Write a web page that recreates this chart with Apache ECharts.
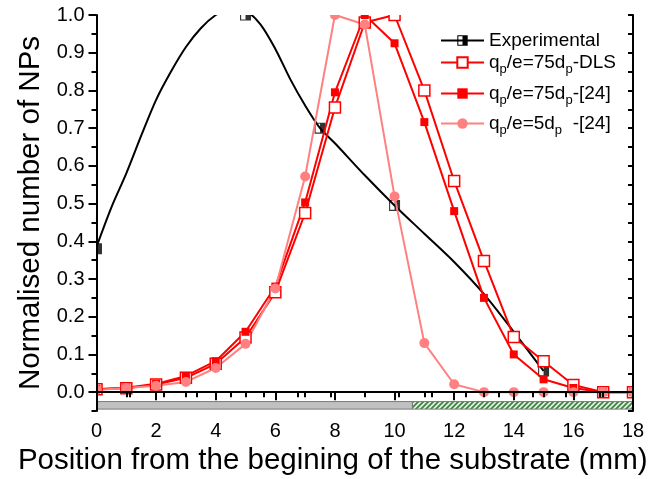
<!DOCTYPE html>
<html lang="en">
<head>
    <meta charset="UTF-8">
    <title>Normalised number of NPs</title>
    <script src="https://cdn.jsdelivr.net/npm/echarts@6.0.0/dist/echarts.min.js"></script>
    <style>
        body { margin: 0; padding: 0; background: #fff; }
        #chart { width: 662px; height: 479px; }
    </style>
</head>
<body>
<div id="chart"></div>
<script>
    // positions along the substrate (mm)
    const xPos = [0, 1, 2, 3, 4, 5, 6, 7, 8, 9, 10, 11, 12, 13, 14, 15, 16, 17, 18];
    // qp/e = 75dp - DLS (open squares)
    const dlsVals = [0.008, 0.010, 0.020, 0.038, 0.075, 0.145, 0.265, 0.475, 0.755, 0.98, 1.0, 0.80, 0.56, 0.348, 0.146, 0.082, 0.019, 0.0, 0.0];
    // qp/e = 75dp - [24] (filled squares)
    const ref75Vals = [0.008, 0.012, 0.022, 0.043, 0.082, 0.16, 0.28, 0.503, 0.795, 1.0, 0.925, 0.716, 0.48, 0.25, 0.10, 0.034, 0.011, 0.0, 0.0];
    // qp/e = 5dp - [24] (circles)
    const ref5Vals = [0.006, 0.011, 0.017, 0.027, 0.064, 0.128, 0.275, 0.572, 1.0, 0.975, 0.519, 0.13, 0.021, 0.0, 0.0, 0.0, 0.0, 0.0, 0.0];

    // experimental measurements
    const expX = [0, 5, 7.5, 10, 15];
    const expY = [0.38, 1.0, 0.70, 0.495, 0.056];
    // experimental guide curve
    const expCurveX = [0, 0.5, 1, 1.5, 2, 2.5, 3, 3.5, 4, 4.5, 5, 5.5, 6, 6.5, 7, 7.5, 8, 9, 10, 11, 12, 13, 14, 15];
    const expCurveY = [0.385, 0.49, 0.58, 0.68, 0.775, 0.85, 0.915, 0.965, 1.0, 1.02, 1.012, 0.975, 0.91, 0.83, 0.76, 0.70, 0.66, 0.575, 0.495, 0.42, 0.345, 0.26, 0.16, 0.056];

    const yTickValues = [0, 0.1, 0.2, 0.3, 0.4, 0.5, 0.6, 0.7, 0.8, 0.9, 1.0];
    // substrate bands under the axis: grey part, then hatched part
    const bandX = [0, 10.6, 18];
    const bandY = [-0.045, -0.025];

    const pairs = (xs, ys) => xs.map((x, i) => [x, ys[i]]);

    // hatch pattern for the green band
    const hatch = document.createElement('canvas');
    hatch.width = 5; hatch.height = 5;
    const hc = hatch.getContext('2d');
    hc.fillStyle = '#e4ece4';
    hc.fillRect(0, 0, 5, 5);
    hc.strokeStyle = '#3a843a';
    hc.lineWidth = 1.7;
    hc.beginPath();
    hc.moveTo(-1, 6); hc.lineTo(6, -1);
    hc.moveTo(-1, 1); hc.lineTo(1, -1);
    hc.moveTo(4, 6); hc.lineTo(6, 4);
    hc.stroke();

    // half filled square: frame with right half filled
    const expSymbol = 'path://M0 0H10V10H0Z M1 1V9H5V1Z';

    const font = 'Liberation Sans';
    const rich = {
        n: { fontSize: 19, lineHeight: 20, fontFamily: font, color: '#000' },
        s: { fontSize: 13, lineHeight: 13, padding: [14, 0, 0, 0], fontFamily: font, color: '#000' }
    };
    const legendLabels = {
        'Experimental': '{n|Experimental}',
        'qp/e=75dp-DLS': '{n|q}{s|p}{n|/e=75d}{s|p}{n|-DLS}',
        'qp/e=75dp-[24]': '{n|q}{s|p}{n|/e=75d}{s|p}{n|-[24]}',
        'qp/e=5dp-[24]': '{n|q}{s|p}{n|/e=5d}{s|p}{n|  -[24]}'
    };
    const legendTops = [31, 49, 80, 110];
    const legends = Object.keys(legendLabels).map((name, i) => ({
        data: [name],
        left: 440,
        top: legendTops[i],
        padding: 0,
        orient: 'vertical',
        itemWidth: 43,
        itemHeight: 13,
        selectedMode: false,
        formatter: n => legendLabels[n],
        textStyle: { fontFamily: font, fontSize: 19, rich: rich }
    }));

    const axisLine = { lineStyle: { color: '#000', width: 2 } };
    const chart = echarts.init(document.getElementById('chart'));
    chart.setOption({
        animation: false,
        backgroundColor: '#fff',
        grid: { left: 96.5, right: 29, top: 15, bottom: 68, containLabel: false, outerBoundsMode: 'none' },
        legend: legends,
        xAxis: [{
            type: 'value', position: 'bottom', min: 0, max: 18, interval: 2, z: 10,
            name: 'Position from the begining of the substrate (mm)',
            nameLocation: 'middle', nameGap: 31,
            nameTextStyle: { fontFamily: font, fontSize: 29.5, color: '#000', padding: [0, 64, 0, 0] },
            axisLine: axisLine,
            axisTick: { length: 8, lineStyle: { color: '#000', width: 2 } },
            minorTick: { show: true, splitNumber: 2, length: 5, lineStyle: { color: '#000', width: 2 } },
            axisLabel: { fontFamily: font, fontSize: 20, color: '#000', margin: 10 },
            splitLine: { show: false }
        }, {
            type: 'value', position: 'top', min: 0, max: 16, interval: 1, z: 10,
            axisLine: axisLine,
            axisTick: { inside: true, length: 5, lineStyle: { color: '#000', width: 2 } },
            axisLabel: { show: false },
            splitLine: { show: false }
        }],
        yAxis: [{
            type: 'value', position: 'left', min: -0.05, max: 1.0, z: 10,
            name: 'Normalised number of NPs',
            nameLocation: 'middle', nameGap: 50,
            nameTextStyle: { fontFamily: font, fontSize: 29.5, color: '#000' },
            axisLine: axisLine,
            axisTick: { length: 8, customValues: yTickValues, lineStyle: { color: '#000', width: 2 } },
            axisLabel: { fontFamily: font, fontSize: 20, color: '#000', margin: 12,
                customValues: yTickValues, formatter: v => v.toFixed(1) },
            splitLine: { show: false }
        }, {
            type: 'value', position: 'left', min: -0.05, max: 1.0, interval: 0.05, z: 10,
            axisLine: { show: false },
            axisTick: { length: 5, lineStyle: { color: '#000', width: 2 } },
            axisLabel: { show: false },
            splitLine: { show: false }
        }, {
            type: 'value', position: 'right', min: -0.05, max: 1.0, interval: 0.05, z: 10,
            axisLine: axisLine,
            axisTick: { inside: true, length: 5, lineStyle: { color: '#000', width: 2 } },
            axisLabel: { show: false },
            splitLine: { show: false }
        }],
        // white masks so markers are cut at the frame
        graphic: [
            { type: 'rect', z: 5, silent: true, shape: { x: 0, y: 0, width: 96.5, height: 479 }, style: { fill: '#fff' } },
            { type: 'rect', z: 5, silent: true, shape: { x: 633, y: 0, width: 29, height: 479 }, style: { fill: '#fff' } },
            { type: 'rect', z: 5, silent: true, shape: { x: 0, y: 0, width: 662, height: 15 }, style: { fill: '#fff' } },
            { type: 'rect', z: 5, silent: true, shape: { x: 0, y: 411, width: 662, height: 68 }, style: { fill: '#fff' } }
        ],
        series: [{
            name: 'Experimental', type: 'line',
            data: pairs(expCurveX, expCurveY),
            smooth: 0.3, showSymbol: false,
            symbol: expSymbol, symbolSize: 11,
            itemStyle: { color: '#000' },
            lineStyle: { color: '#000', width: 2 },
            silent: true,
            markArea: {
                silent: true,
                label: { show: false },
                data: [
                    [{ xAxis: bandX[0], yAxis: bandY[0], itemStyle: { color: '#c0c0c0', borderColor: '#7a7a7a', borderWidth: 1 } },
                     { xAxis: bandX[1], yAxis: bandY[1] }],
                    [{ xAxis: bandX[1], yAxis: bandY[0], itemStyle: { color: { image: hatch, repeat: 'repeat' }, borderColor: '#7a7a7a', borderWidth: 1 } },
                     { xAxis: bandX[2], yAxis: bandY[1] }]
                ]
            }
        }, {
            name: 'expBg', type: 'scatter', silent: true,
            data: pairs(expX, expY), symbol: 'rect', symbolSize: 11,
            itemStyle: { color: '#fff' }
        }, {
            name: 'expPts', type: 'scatter', silent: true,
            data: pairs(expX, expY), symbol: expSymbol, symbolSize: 11,
            itemStyle: { color: '#000' }
        }, {
            name: 'qp/e=75dp-DLS', type: 'line', silent: true,
            data: pairs(xPos, dlsVals),
            symbol: 'rect', symbolSize: 11,
            itemStyle: { color: '#fff', borderColor: '#ff0000', borderWidth: 1.5 },
            lineStyle: { color: '#ff0000', width: 2 }
        }, {
            name: 'qp/e=75dp-[24]', type: 'line', silent: true,
            data: pairs(xPos, ref75Vals),
            symbol: 'rect', symbolSize: 8,
            itemStyle: { color: '#ff0000' },
            lineStyle: { color: '#ff0000', width: 2 }
        }, {
            name: 'qp/e=5dp-[24]', type: 'line', silent: true,
            data: pairs(xPos, ref5Vals),
            symbol: 'circle', symbolSize: 10,
            itemStyle: { color: '#ff8080' },
            lineStyle: { color: '#ff8080', width: 2 }
        }]
    });
</script>
</body>
</html>
